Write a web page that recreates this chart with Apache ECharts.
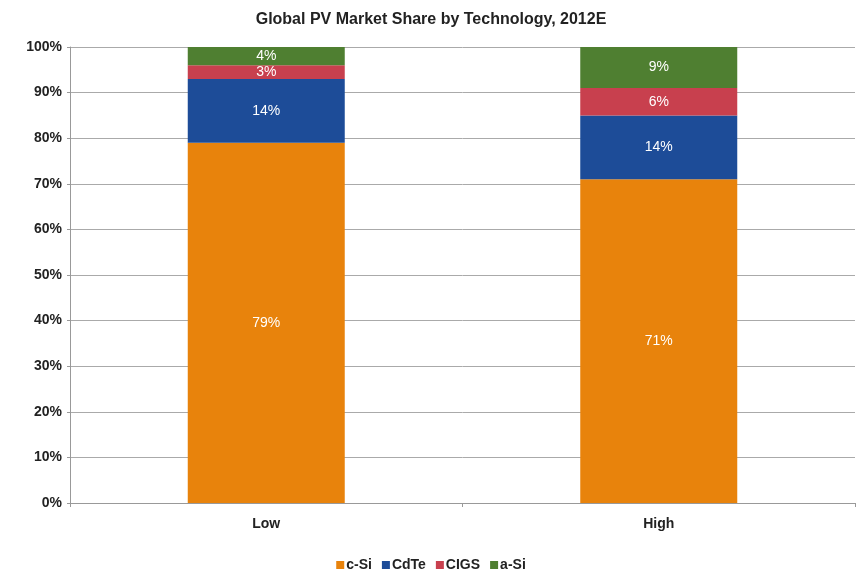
<!DOCTYPE html>
<html>
<head>
<meta charset="utf-8">
<script src="https://cdn.jsdelivr.net/npm/echarts@6/dist/echarts.min.js"></script>
<style>
  html, body { margin: 0; padding: 0; background: #fff; }
  #chart { width: 862px; height: 577px; }
</style>
</head>
<body>
<div id="chart"></div>
<script>
// scenarios on the x axis
const categories = ['Low', 'High']
// market share in percent, per technology
const cSi = [79, 71]
const cdTe = [14, 14]
const cigs = [3, 6]
const aSi = [4, 9]
const yTicks = [0, 10, 20, 30, 40, 50, 60, 70, 80, 90, 100]

const font = '"Liberation Sans", Arial, sans-serif'

function segment(name, data, color) {
  return {
    name: name,
    type: 'bar',
    stack: 'share',
    data: data,
    barWidth: '40%',
    itemStyle: { color: color },
    label: {
      show: true,
      position: 'inside',
      formatter: '{c}%',
      color: '#fff',
      fontFamily: font,
      fontSize: 14,
    },
  }
}

const chart = echarts.init(document.getElementById('chart'))
chart.setOption({
  animation: false,
  textStyle: { fontFamily: font },
  title: {
    text: 'Global PV Market Share by Technology, 2012E',
    left: 'center',
    top: 7,
    textStyle: { fontFamily: font, fontSize: 16, fontWeight: 'bold', color: '#222' },
  },
  legend: {
    bottom: 0,
    left: 'center',
    itemWidth: 8,
    itemHeight: 8,
    itemGap: 10,
    icon: 'rect',
    textStyle: { fontFamily: font, fontSize: 14, fontWeight: 'bold', color: '#222', padding: [0, 0, 0, -3] },
  },
  grid: { left: 70, right: 7, top: 47, bottom: 74 },
  xAxis: {
    type: 'category',
    data: categories,
    axisLine: { lineStyle: { color: '#999' } },
    axisTick: { show: true, length: 4, lineStyle: { color: '#999' } },
    axisLabel: { fontFamily: font, fontSize: 14, fontWeight: 'bold', color: '#222', margin: 14 },
  },
  yAxis: {
    type: 'value',
    min: yTicks[0],
    max: yTicks[yTicks.length - 1],
    interval: 10,
    axisLine: { show: true, lineStyle: { color: '#999' } },
    axisTick: { show: true, length: 3, lineStyle: { color: '#999' } },
    splitLine: { lineStyle: { color: '#aaa' } },
    axisLabel: { formatter: '{value}%', fontFamily: font, fontSize: 14, fontWeight: 'bold', color: '#222', margin: 8 },
  },
  series: [
    segment('c-Si', cSi, '#e8830c'),
    segment('CdTe', cdTe, '#1d4c98'),
    segment('CIGS', cigs, '#c8404e'),
    segment('a-Si', aSi, '#4f7f31'),
  ],
})
</script>
</body>
</html>
